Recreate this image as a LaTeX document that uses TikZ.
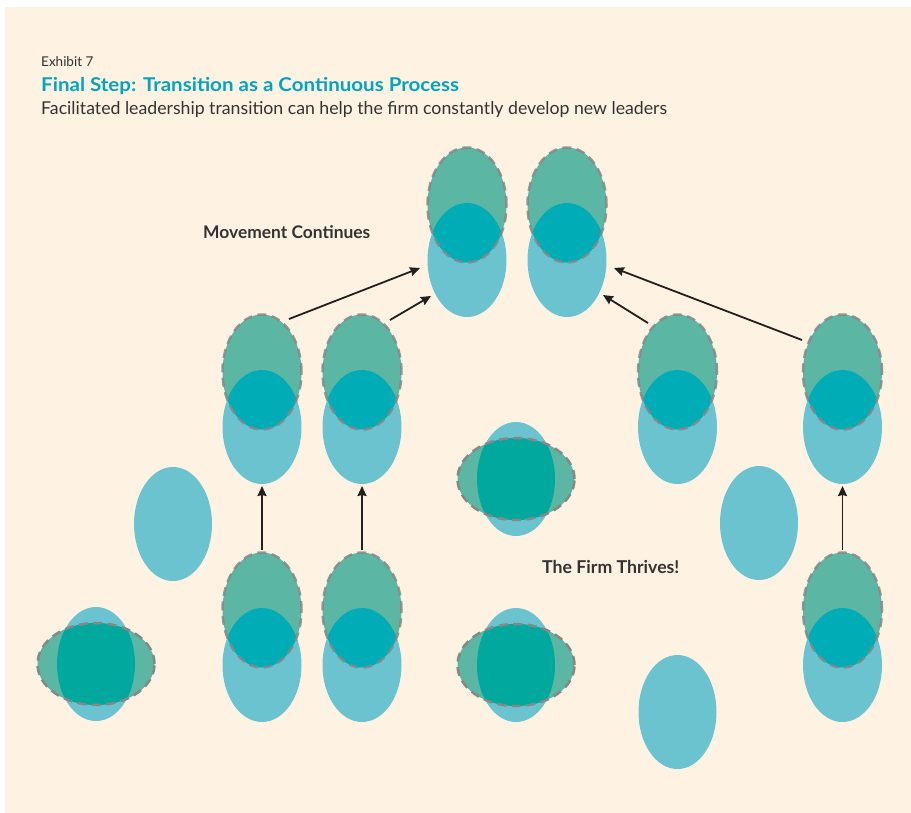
\documentclass[tikz,border=0pt]{standalone}
\usepackage{fontspec}
\setmainfont{Lato}
\newfontfamily\titlefont{Lato}[FakeStretch=1.08]
\usetikzlibrary{arrows.meta}
\definecolor{bgc}{RGB}{254,243,226}
\definecolor{bluec}{RGB}{108,195,208}
\definecolor{greenc}{RGB}{91,182,164}
\definecolor{ovA}{RGB}{0,173,182}
\definecolor{ovB}{RGB}{0,168,158}
\definecolor{dashc}{RGB}{135,135,135}
\definecolor{titlec}{RGB}{0,166,192}
\definecolor{textc}{RGB}{51,51,51}
\definecolor{arrc}{RGB}{35,31,32}
\tikzset{
  dashedge/.style={draw=dashc,line width=2.5pt,dash pattern=on 9pt off 5.5pt},
  flowarrow/.style={draw=arrc,line width=1.8pt,-{Stealth[length=10pt,width=9pt,inset=1pt]}},
  label/.style={anchor=base west,inner sep=0pt,text=textc}
}
\newcommand{\StackPair}[2]{%
  \fill[bluec] (#1,#2+55) ellipse (39.5pt and 57pt);
  \fill[greenc] (#1,#2) ellipse (39.5pt and 57.5pt);
  \begin{scope}
    \clip (#1,#2+55) ellipse (39.5pt and 57pt);
    \fill[ovA] (#1,#2) ellipse (39.5pt and 57.5pt);
  \end{scope}
  \draw[dashedge,draw opacity=0.85] (#1,#2) ellipse (39.5pt and 57.5pt);
}
\newcommand{\CrossPair}[2]{%
  \fill[bluec] (#1,#2) ellipse (39pt and 57pt);
  \fill[greenc] (#1,#2) ellipse (58.5pt and 41pt);
  \begin{scope}
    \clip (#1,#2) ellipse (39pt and 57pt);
    \fill[ovB] (#1,#2) ellipse (58.5pt and 41pt);
  \end{scope}
  \draw[dashedge] (#1,#2) ellipse (58.5pt and 41pt);
}
\newcommand{\Single}[2]{%
  \fill[bluec] (#1,#2) ellipse (39pt and 57pt);
}
\begin{document}
\begin{tikzpicture}[x=1pt,y=-1pt]
\useasboundingbox (0,0) rectangle (911,812);
\fill[white] (0,0) rectangle (911,812);
\fill[bgc] (5,7) rectangle (916,817);

% texts
\node[label,font=\fontsize{13.5}{14}\selectfont] (exh) at (41,66) {Exhibit 7};
\node[label,text=titlec,font=\fontsize{19}{20}\titlefont\bfseries] (title) at (41,91) {Final Step: Transition as a Continuous Process};
\node[label,font=\fontsize{17.7}{18}\selectfont] (sub) at (41,114) {Facilitated leadership transition can help the firm constantly develop new leaders};
\node[label,font=\fontsize{17.4}{18}\selectfont\bfseries] (mc) at (203,238) {Movement Continues};
\node[label,font=\fontsize{17.7}{18}\selectfont\bfseries] (ft) at (542,573) {The Firm Thrives!};

% ellipses
\StackPair{467}{205}
\StackPair{567}{205}
\StackPair{262}{372}
\StackPair{362}{372}
\StackPair{677.5}{372}
\StackPair{842.5}{372}
\StackPair{262}{610}
\StackPair{362}{610}
\StackPair{842.5}{610}
\Single{173}{524}
\Single{759}{523}
\Single{677.5}{712}
\CrossPair{96}{664}
\CrossPair{516}{479}
\CrossPair{516}{665}

% arrow ends
\coordinate (a1s) at (289,319); \coordinate (a1e) at (420,268);
\coordinate (a2s) at (390,320); \coordinate (a2e) at (431,296);
\coordinate (a3s) at (648,323); \coordinate (a3e) at (603,295);
\coordinate (a4s) at (802,340); \coordinate (a4e) at (614,268);
\coordinate (v1s) at (262,550); \coordinate (v1e) at (262,486);
\coordinate (v2s) at (362,550); \coordinate (v2e) at (362,486);
\coordinate (v3s) at (842.5,550); \coordinate (v3e) at (842.5,486);
\foreach \s/\e in {a1s/a1e,a2s/a2e,a3s/a3e,a4s/a4e,v1s/v1e,v2s/v2e,v3s/v3e}
  \draw[flowarrow] (\s) -- (\e);
\end{tikzpicture}
\end{document}
